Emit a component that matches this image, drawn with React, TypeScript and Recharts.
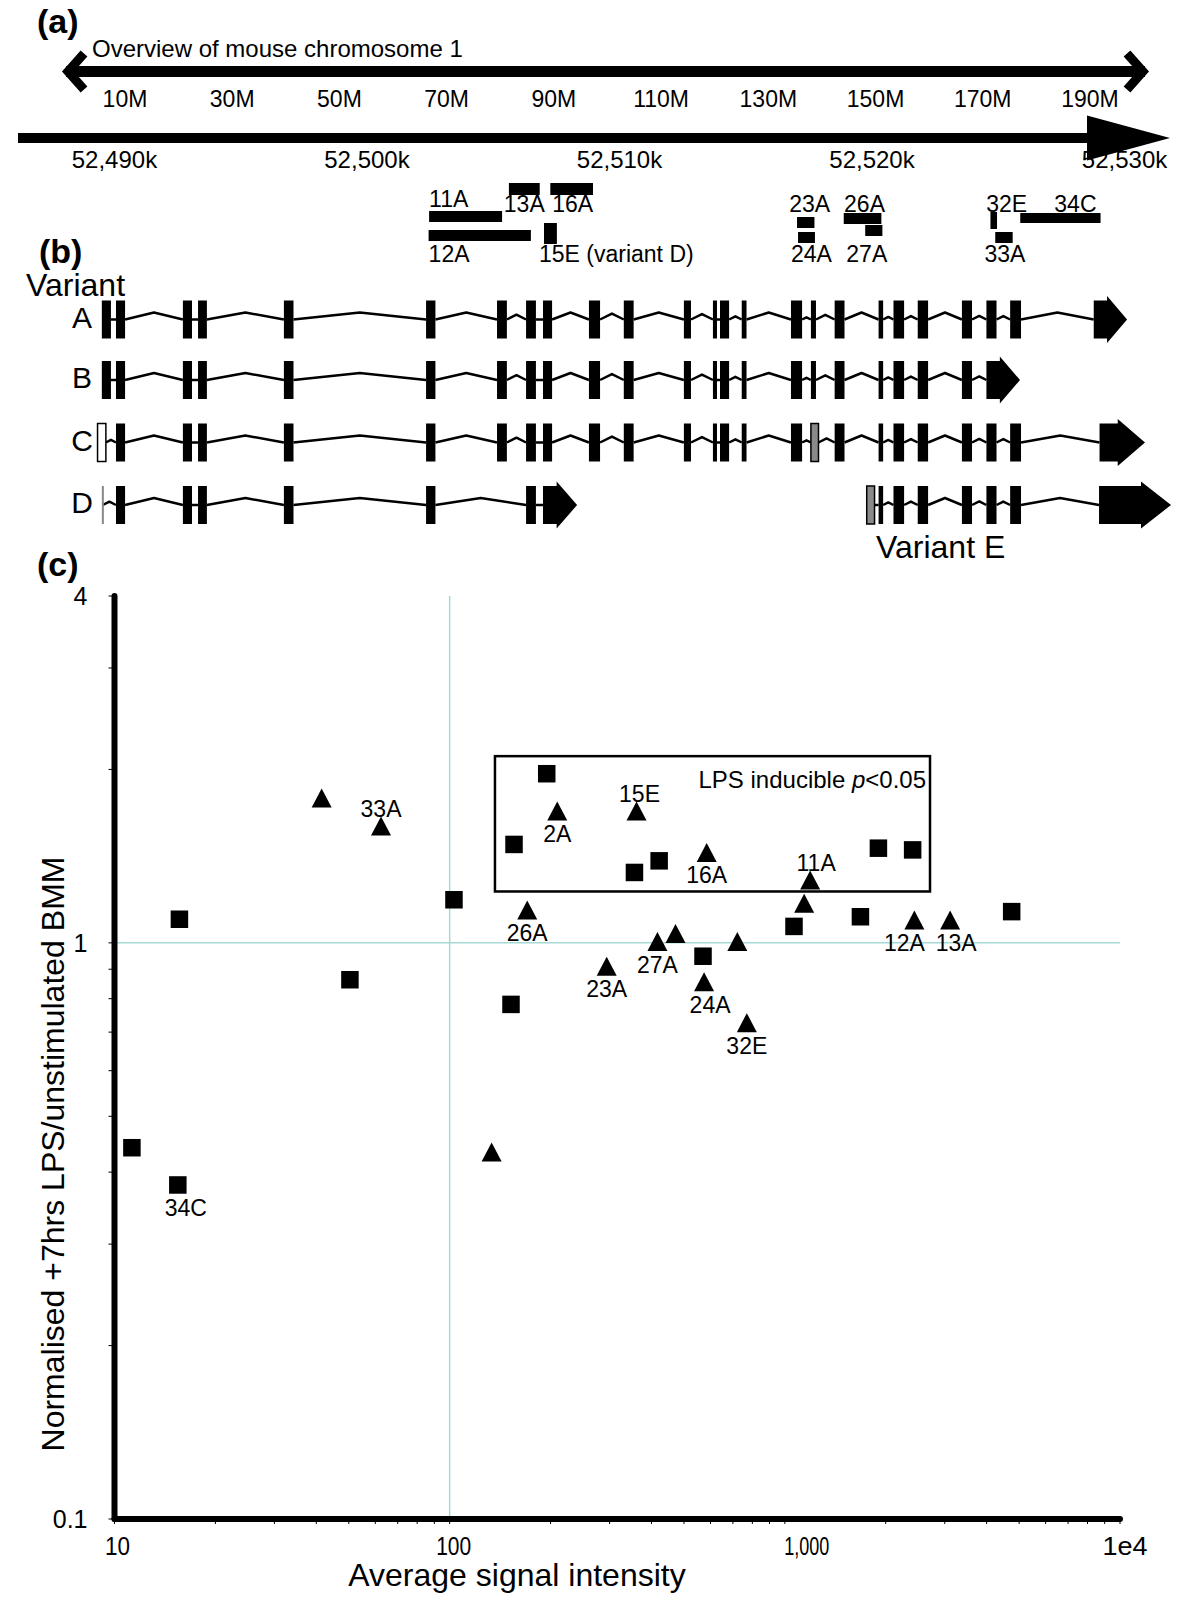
import React from 'react';
import {
  ComposedChart,
  ScatterChart,
  Scatter,
  XAxis,
  YAxis,
  ReferenceArea,
  ReferenceLine,
  Label,
} from 'recharts';

const FONT = '"Liberation Sans", Arial, Helvetica, sans-serif';

// ---- (a) chromosome overview (Mb) ----
const chromosomeTicks = [10, 30, 50, 70, 90, 110, 130, 150, 170, 190];
const chromosomeDomain: [number, number] = [-1.0, 200.26];

// ---- region axis (kb) ----
const regionTicks = [52490, 52500, 52510, 52520, 52530];
const regionDomain: [number, number] = [52486.18, 52531.8];

// probe sets on the locus (kb)
const probes = [
  { name: '13A', start: 52505.62, end: 52506.84 },
  { name: '16A', start: 52507.26, end: 52508.95 },
  { name: '11A', start: 52502.46, end: 52505.35 },
  { name: '12A', start: 52502.44, end: 52506.49 },
  { name: '15E', start: 52507.01, end: 52507.52 },
  { name: '23A', start: 52517.03, end: 52517.72 },
  { name: '24A', start: 52517.07, end: 52517.74 },
  { name: '26A', start: 52518.88, end: 52520.37 },
  { name: '27A', start: 52519.73, end: 52520.41 },
  { name: '32E', start: 52524.69, end: 52524.95 },
  { name: '33A', start: 52524.88, end: 52525.57 },
  { name: '34C', start: 52525.87, end: 52529.05 },
];

// exons shared by the transcripts (kb)
const exons: [number, number][] = [
  [52489.5, 52489.86],
  [52490.06, 52490.42],
  [52492.71, 52493.07],
  [52493.31, 52493.66],
  [52496.71, 52497.09],
  [52502.34, 52502.71],
  [52505.15, 52505.54],
  [52506.3, 52506.69],
  [52506.97, 52507.33],
  [52508.79, 52509.23],
  [52510.17, 52510.56],
  [52512.55, 52512.83],
  [52513.7, 52513.86],
  [52513.98, 52514.34],
  [52514.84, 52515.03],
  [52516.79, 52517.23],
  [52517.58, 52517.78],
  [52518.52, 52518.91],
  [52520.26, 52520.44],
  [52520.85, 52521.27],
  [52521.81, 52522.22],
  [52523.56, 52523.96],
  [52524.53, 52524.93],
  [52525.47, 52525.9],
];

const variantNames = ['A', 'B', 'C', 'D', 'E'];
const variantExons: Record<string, number[]> = {
  A: [0, 1, 2, 3, 4, 5, 6, 7, 8, 9, 10, 11, 12, 13, 14, 15, 16, 17, 18, 19, 20, 21, 22, 23],
  B: [0, 1, 2, 3, 4, 5, 6, 7, 8, 9, 10, 11, 12, 13, 14, 15, 16, 17, 18, 19, 20, 21],
  C: [1, 2, 3, 4, 5, 6, 7, 8, 9, 10, 11, 12, 13, 14, 15, 17, 18, 19, 20, 21, 22, 23],
  D: [1, 2, 3, 4, 5, 7],
  E: [18, 19, 20, 21, 22, 23],
};
// alternative first / internal exons
const variantExtra: Record<string, { start: number; end: number; kind: string }[]> = {
  C: [
    { start: 52489.33, end: 52489.66, kind: 'open' },
    { start: 52517.58, end: 52517.88, kind: 'alt' },
  ],
  D: [{ start: 52489.54, end: 52489.54, kind: 'mark' }],
  E: [{ start: 52519.79, end: 52520.1, kind: 'alt' }],
};
// last exon with the 3' arrow (start, tip)
const variantEnd: Record<string, [number, number]> = {
  A: [52528.78, 52530.1],
  B: [52524.53, 52525.86],
  C: [52529.01, 52530.81],
  D: [52506.97, 52508.32],
  E: [52528.99, 52531.84],
};

// ---- (c) expression scatter ----
const squarePoints = [
  { x: 194.8, y: 1.966 },
  { x: 155.6, y: 1.482 },
  { x: 355.9, y: 1.325 },
  { x: 421.7, y: 1.388 },
  { x: 1902, y: 1.46 },
  { x: 2406, y: 1.45 },
  { x: 15.62, y: 1.099 },
  { x: 103.0, y: 1.188 },
  { x: 50.4, y: 0.863 },
  { x: 152.4, y: 0.782 },
  { x: 570, y: 0.948 },
  { x: 1065, y: 1.068 },
  { x: 1681, y: 1.11 },
  { x: 4751, y: 1.133 },
  { x: 11.27, y: 0.441 },
  { x: 15.45, y: 0.38, label: '34C', pos: 'below' },
];

const trianglePoints = [
  { x: 41.5, y: 1.784 },
  { x: 62.4, y: 1.595, label: '33A', pos: 'above' },
  { x: 209.4, y: 1.694, label: '2A', pos: 'below' },
  { x: 361, y: 1.694, label: '15E', pos: 'above' },
  { x: 584.6, y: 1.435, label: '16A', pos: 'below' },
  { x: 1190, y: 1.286, label: '11A', pos: 'above' },
  { x: 1142, y: 1.171 },
  { x: 170.4, y: 1.14, label: '26A', pos: 'below' },
  { x: 294.1, y: 0.911, label: '23A', pos: 'below' },
  { x: 416.8, y: 1.005, label: '27A', pos: 'below' },
  { x: 471.9, y: 1.038 },
  { x: 574.2, y: 0.856, label: '24A', pos: 'below' },
  { x: 721.6, y: 1.005 },
  { x: 770.2, y: 0.727, label: '32E', pos: 'below' },
  { x: 2435, y: 1.096, label: '12A', pos: 'below' },
  { x: 3113, y: 1.096, label: '13A', pos: 'below' },
  { x: 133.4, y: 0.4335 },
];

const inducibleBox = { x1: 136.5, x2: 2711, y1: 1.228, y2: 2.109 };

const xTicks = [10, 20, 30, 40, 50, 60, 70, 80, 90, 100, 200, 300, 400, 500, 600, 700, 800, 900,
  1000, 2000, 3000, 4000, 5000, 6000, 7000, 8000, 9000, 10000];
const yTicks = [0.1, 0.2, 0.3, 0.4, 0.5, 0.6, 0.7, 0.8, 0.9, 1, 2, 3, 4];
const xTickLabels: Record<number, string> = { 10: '10', 100: '100', 1000: '1,000', 10000: '1e4' };
const yTickLabels: Record<number, string> = { 0.1: '0.1', 1: '1', 4: '4' };

// ---- layout (track units = px below the region axis) ----
const ROW_Y: Record<string, number> = { A: 181.5, B: 242, C: 304.5, D: 367, E: 367 };
const EXON_HALF = 19;
const HEAD_HALF = 23.5;
const probeBox: Record<string, [number, number]> = {
  '13A': [45, 57], '16A': [45, 57], '11A': [73, 84], '12A': [92, 103], '15E': [85, 106],
  '23A': [79, 90], '24A': [94, 105], '26A': [75, 86], '27A': [87, 98], '32E': [74, 91],
  '33A': [94, 105], '34C': [75, 85],
};
const LABEL_ROW: Record<string, number> = { high: 61, upper: 66, lower: 116 };
const probeLabel: Record<string, [string, string, number]> = {
  '11A': ['high', 'start', 0], '12A': ['lower', 'start', 0], '13A': ['upper', 'middle', 0],
  '16A': ['upper', 'middle', 1], '15E': ['lower', 'start', -5], '23A': ['upper', 'middle', 4],
  '24A': ['lower', 'middle', 5], '26A': ['upper', 'middle', 2], '27A': ['lower', 'middle', -7],
  '32E': ['upper', 'middle', 13], '33A': ['lower', 'middle', 1], '34C': ['upper', 'middle', 15],
};
const POINT_DX: Record<string, number> = { '11A': 6, '12A': -10, '34C': 8, '24A': 6, '13A': 6, '15E': 3 };
// condensed tick lettering of the original: [dx, text length]
const X_TICK_FIT: Record<string, [number, number]> = {
  '10': [3, 25], '100': [4, 35], '1,000': [22, 45], '1e4': [5, 45],
};

const fmtKb = (v: number) => `${v.toLocaleString('en-US')}k`;

function buildFeatures(v: string) {
  const f: { start: number; end: number; kind: string }[] = [];
  variantExons[v].forEach((i) => f.push({ start: exons[i][0], end: exons[i][1], kind: 'exon' }));
  (variantExtra[v] || []).forEach((e) => f.push(e));
  f.push({ start: variantEnd[v][0], end: variantEnd[v][1], kind: 'end' });
  f.sort((a, b) => a.start - b.start);
  return f;
}

// ---------- shapes ----------
const boxShape = (fill: string, stroke = 'none', sw = 0) => (p: any) => (
  <rect x={p.x} y={p.y} width={Math.max(p.width, 1)} height={p.height} fill={fill} stroke={stroke} strokeWidth={sw} />
);

const markShape = (p: any) => (
  <line x1={p.x} x2={p.x} y1={p.y} y2={p.y + p.height} stroke="#888" strokeWidth={2} />
);

const intronShape = (p: any) => {
  const { x, y, width, height } = p;
  const base = y + height;
  const peak = width < 8 ? 0 : Math.min(7, width * 0.25);
  return (
    <polyline
      points={`${x},${base} ${x + width / 2},${base - peak} ${x + width},${base}`}
      fill="none"
      stroke="#000"
      strokeWidth={2.5}
      strokeLinejoin="round"
    />
  );
};

const endShape = (p: any) => {
  const { x, y, width, height } = p;
  const cy = y + height / 2;
  const head = Math.min(width * 0.6, 30);
  const bx = x + width - head;
  return (
    <polygon
      points={`${x},${cy - EXON_HALF} ${bx},${cy - EXON_HALF} ${bx},${y} ${x + width},${cy} ${bx},${y + height} ${bx},${cy + EXON_HALF} ${x},${cy + EXON_HALF}`}
      fill="#000"
    />
  );
};

const regionArrowShape = (p: any) => {
  const { x, y, width, height } = p;
  const cy = y + height / 2;
  const bx = x + width - 83;
  return (
    <g>
      <rect x={x} y={cy - 5} width={bx - x + 1} height={10} fill="#000" />
      <polygon points={`${bx},${y} ${x + width},${cy} ${bx},${y + height}`} fill="#000" />
    </g>
  );
};

const probeLabelShape = (text: string, anchor: string, dx: number) => (p: any) => {
  const tx = anchor === 'start' ? p.x + dx : p.x + p.width / 2 + dx;
  return (
    <text x={tx} y={p.y + p.height / 2 + 8} textAnchor={anchor} fontSize={23} fontFamily={FONT} fill="#000">
      {text}
    </text>
  );
};

// chevron drawn at the bottom edge of a zero-width area; dir -1 points left, 1 points right
const chevronShape = (dir: number) => (p: any) => {
  const cy = p.y + p.height;
  const vx = p.x - dir * 2;
  return (
    <polyline
      points={`${vx - dir * 16},${cy - 18} ${vx},${cy} ${vx - dir * 16},${cy + 18}`}
      fill="none"
      stroke="#000"
      strokeWidth={9}
      strokeLinejoin="miter"
    />
  );
};

const pointLabel = (p: any) => {
  const { cx, cy, payload } = p;
  if (!payload.label) return null;
  const dy = payload.pos === 'above' ? -17 : 23;
  return (
    <text x={cx + (POINT_DX[payload.label] || 0)} y={cy + dy + 8} textAnchor="middle" fontSize={23} fontFamily={FONT} fill="#000">
      {payload.label}
    </text>
  );
};

const squareShape = (p: any) => (
  <g>
    <rect x={p.cx - 8.75} y={p.cy - 8.75} width={17.5} height={17.5} fill="#000" />
    {pointLabel(p)}
  </g>
);

const triangleShape = (p: any) => (
  <g>
    <path d={`M${p.cx},${p.cy - 9.5} L${p.cx + 10},${p.cy + 9.5} L${p.cx - 10},${p.cy + 9.5} Z`} fill="#000" />
    {pointLabel(p)}
  </g>
);

const boxWithLabel = (p: any) => (
  <g>
    <rect x={p.x} y={p.y} width={p.width} height={p.height} fill="none" stroke="#000" strokeWidth={2.5} />
    <text x={p.x + p.width - 4} y={p.y + 32} textAnchor="end" fontSize={24} fontFamily={FONT} fill="#000">
      LPS inducible <tspan fontStyle="italic">p</tspan>&lt;0.05
    </text>
  </g>
);

function XTick(p: any) {
  const label = xTickLabels[p.payload.value];
  if (!label) return null;
  const [dx, len] = X_TICK_FIT[label];
  return (
    <text x={p.x + dx} y={p.y + 31} textAnchor="middle" fontSize={25} fontFamily={FONT} fill="#000" textLength={len} lengthAdjust="spacingAndGlyphs">
      {label}
    </text>
  );
}

// ---------- charts ----------
function OverviewChart() {
  return (
    <ComposedChart width={1200} height={130} margin={{ top: 10, right: 55, bottom: 0, left: 66 }}>
      <XAxis
        type="number"
        dataKey="x"
        domain={chromosomeDomain}
        allowDataOverflow
        ticks={chromosomeTicks}
        interval={0}
        tickFormatter={(v) => `${v}M`}
        axisLine={{ stroke: '#000', strokeWidth: 11 }}
        tickLine={false}
        tickSize={0}
        tickMargin={19}
        height={58.5}
        tick={{ fill: '#000', fontSize: 23, fontFamily: FONT }}
      />
      <YAxis hide type="number" domain={[0, 1]} allowDataOverflow />
      <ReferenceArea x1={chromosomeDomain[0]} x2={chromosomeDomain[0]} y1={0} y2={0.2} ifOverflow="visible" shape={chevronShape(-1)} />
      <ReferenceArea x1={chromosomeDomain[1]} x2={chromosomeDomain[1]} y1={0} y2={0.2} ifOverflow="visible" shape={chevronShape(1)} />
    </ComposedChart>
  );
}

function RegionTick(p: any) {
  return (
    <text x={p.x} y={p.y + 30} textAnchor="middle" fontSize={24} fontFamily={FONT} fill="#000">
      {fmtKb(p.payload.value)}
    </text>
  );
}

function RegionChart() {
  const items: React.ReactNode[] = [];
  // probes
  probes.forEach((pr) => {
    const [y1, y2] = probeBox[pr.name];
    items.push(
      <ReferenceArea key={`p-${pr.name}`} x1={pr.start} x2={pr.end} y1={y1} y2={y2} ifOverflow="visible" shape={boxShape('#000')} />
    );
    const [row, anchor, dx] = probeLabel[pr.name];
    const text = pr.name === '15E' ? '15E (variant D)' : pr.name;
    items.push(
      <ReferenceArea
        key={`pl-${pr.name}`}
        x1={pr.start}
        x2={pr.end}
        y1={LABEL_ROW[row] - 5}
        y2={LABEL_ROW[row] + 5}
        ifOverflow="visible"
        shape={probeLabelShape(text, anchor, dx)}
      />
    );
  });
  // transcripts
  variantNames.forEach((v) => {
    const row = ROW_Y[v];
    const feats = buildFeatures(v);
    feats.forEach((f, i) => {
      if (i > 0 && f.start > feats[i - 1].end) {
        items.push(
          <ReferenceArea key={`i-${v}-${i}`} x1={feats[i - 1].end} x2={f.start} y1={row - 8} y2={row} ifOverflow="visible" shape={intronShape} />
        );
      }
    });
    feats.forEach((f, i) => {
      let shape: any;
      let half = EXON_HALF;
      if (f.kind === 'exon') shape = boxShape('#000');
      else if (f.kind === 'open') shape = boxShape('#fff', '#000', 1.5);
      else if (f.kind === 'alt') shape = boxShape('#8a8a8a', '#000', 1.5);
      else if (f.kind === 'mark') shape = markShape;
      else {
        shape = endShape;
        half = HEAD_HALF;
      }
      items.push(
        <ReferenceArea key={`e-${v}-${i}`} x1={f.start} x2={f.end} y1={row - half} y2={row + half} ifOverflow="visible" shape={shape} />
      );
    });
  });

  return (
    <ComposedChart width={1200} height={560} margin={{ top: 100, right: 30, bottom: 0, left: 18 }}>
      <XAxis
        type="number"
        dataKey="x"
        orientation="top"
        domain={regionDomain}
        allowDataOverflow
        ticks={regionTicks}
        interval={0}
        height={38}
        axisLine={false}
        tickLine={false}
        tickSize={0}
        tickMargin={0}
        tick={RegionTick}
      />
      <YAxis hide type="number" reversed domain={[0, 422]} allowDataOverflow />
      <ReferenceArea x1={regionDomain[0]} x2={regionDomain[1]} y1={-22.5} y2={22.5} ifOverflow="visible" shape={regionArrowShape} />
      {items}
    </ComposedChart>
  );
}

function ExpressionChart() {
  return (
    <ScatterChart width={1200} height={1043} margin={{ top: 36, right: 80, bottom: 0, left: 0 }}>
      <XAxis
        type="number"
        dataKey="x"
        scale="log"
        domain={[10, 10000]}
        allowDataOverflow
        ticks={xTicks}
        interval={0}
        stroke="#000"
        axisLine={{ stroke: '#000', strokeWidth: 6, strokeLinecap: 'round' }}
        tickLine={{ stroke: '#000', strokeWidth: 1 }}
        tickSize={5}
        tickMargin={0}
        height={84}
        tick={XTick}
      >
        <Label
          content={(p: any) => (
            <text x={p.viewBox.x + 402.5} y={p.viewBox.y + 67} textAnchor="middle" fontSize={32} fontFamily={FONT} fill="#000">
              Average signal intensity
            </text>
          )}
        />
      </XAxis>
      <YAxis
        type="number"
        dataKey="y"
        scale="log"
        domain={[0.1, 4]}
        allowDataOverflow
        ticks={yTicks}
        interval={0}
        tickFormatter={(v) => yTickLabels[v] || ''}
        stroke="#000"
        axisLine={{ stroke: '#000', strokeWidth: 6, strokeLinecap: 'round' }}
        tickLine={{ stroke: '#000', strokeWidth: 1 }}
        tickSize={6}
        tickMargin={21}
        width={114.5}
        tick={{ fill: '#000', fontSize: 25, fontFamily: FONT }}
      >
        <Label
          content={(p: any) => {
            const cx = p.viewBox.x + 53;
            const cy = p.viewBox.y + 558;
            return (
              <text x={cx} y={cy} transform={`rotate(-90 ${cx} ${cy})`} textAnchor="middle" dominantBaseline="central" fontSize={32} fontFamily={FONT} fill="#000">
                Normalised +7hrs LPS/unstimulated BMM
              </text>
            );
          }}
        />
      </YAxis>
      <ReferenceLine x={100} stroke="#a6d9d6" strokeWidth={1.5} />
      <ReferenceLine y={1} stroke="#a6d9d6" strokeWidth={1.5} />
      <ReferenceArea {...inducibleBox} ifOverflow="visible" shape={boxWithLabel} />
      <Scatter data={squarePoints} shape={squareShape} isAnimationActive={false} />
      <Scatter data={trianglePoints} shape={triangleShape} isAnimationActive={false} />
    </ScatterChart>
  );
}

export default function App() {
  const rowLetter = ['A', 'B', 'C', 'D'];
  return (
    <div style={{ position: 'absolute', left: 0, top: 0, width: 1200, height: 1603, background: '#fff', fontFamily: FONT }}>
      <div style={{ position: 'absolute', left: 0, top: 0 }}>
        <OverviewChart />
      </div>
      <div style={{ position: 'absolute', left: 0, top: 0 }}>
        <RegionChart />
      </div>
      <div style={{ position: 'absolute', left: 0, top: 560 }}>
        <ExpressionChart />
      </div>
      <svg width={1200} height={1603} style={{ position: 'absolute', left: 0, top: 0, pointerEvents: 'none' }}>
        <g fontFamily={FONT} fill="#000">
          <text x={37} y={33} fontSize={34} fontWeight="bold">(a)</text>
          <text x={92} y={57} fontSize={24}>Overview of mouse chromosome 1</text>
          <text x={39} y={263} fontSize={34} fontWeight="bold">(b)</text>
          <text x={26} y={296} fontSize={32}>Variant</text>
          {rowLetter.map((l) => (
            <text key={l} x={82} y={138 + ROW_Y[l] + 8} fontSize={30} textAnchor="middle">
              {l}
            </text>
          ))}
          <text x={876} y={558} fontSize={32}>Variant E</text>
          <text x={37} y={576} fontSize={34} fontWeight="bold">(c)</text>
        </g>
      </svg>
    </div>
  );
}
